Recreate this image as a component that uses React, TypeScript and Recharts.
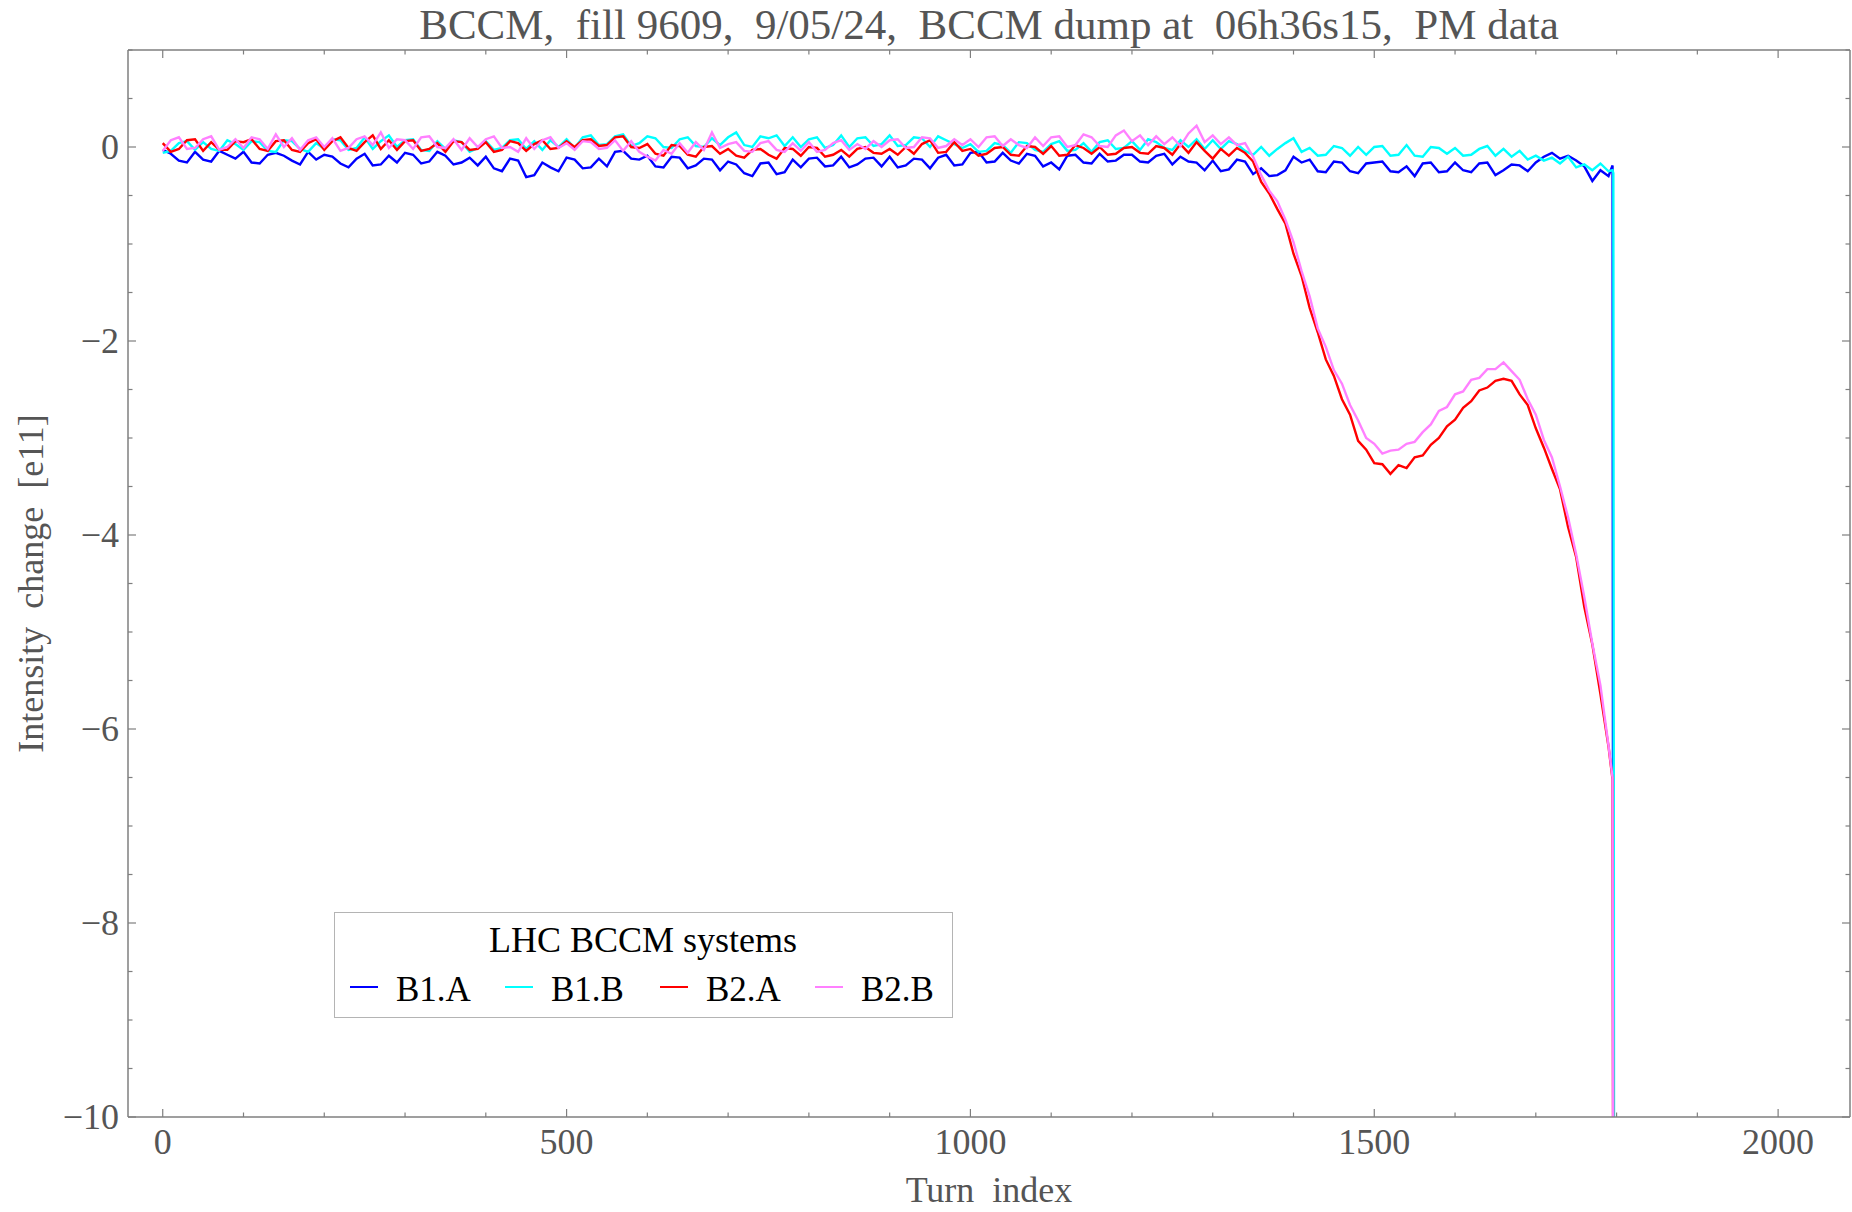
import { Legend, Line, LineChart, XAxis, YAxis } from 'recharts';

const FONT = "'Liberation Serif', 'Times New Roman', serif";
const AXIS = '#7f7f7f';
const TEXT = '#555555';

const TITLE = 'BCCM,\u00a0 fill 9609,\u00a0 9/05/24,\u00a0 BCCM dump at\u00a0 06h36s15,\u00a0 PM data';

// samples every 10 turns, from turn 0 to turn 1790
const TURN_STEP = 10;

const b1a = [
  -0.03, -0.07, -0.14, -0.16, -0.05, -0.13, -0.15, -0.04, -0.08, -0.12,
  -0.05, -0.16, -0.17, -0.08, -0.06, -0.09, -0.14, -0.18, -0.05, -0.13,
  -0.08, -0.1, -0.17, -0.21, -0.12, -0.07, -0.19, -0.18, -0.09, -0.16,
  -0.06, -0.08, -0.17, -0.15, -0.05, -0.09, -0.18, -0.16, -0.11, -0.19,
  -0.1, -0.22, -0.25, -0.12, -0.14, -0.31, -0.29, -0.16, -0.21, -0.25,
  -0.11, -0.13, -0.22, -0.21, -0.12, -0.2, -0.05, -0.04, -0.12, -0.13,
  -0.09, -0.2, -0.21, -0.1, -0.11, -0.22, -0.19, -0.12, -0.13, -0.24,
  -0.15, -0.18, -0.27, -0.3, -0.17, -0.16, -0.28, -0.26, -0.13, -0.21,
  -0.12, -0.11, -0.2, -0.19, -0.1, -0.21, -0.18, -0.12, -0.11, -0.2,
  -0.1, -0.21, -0.19, -0.12, -0.13, -0.22, -0.11, -0.08, -0.19, -0.18,
  -0.06, -0.05, -0.16, -0.15, -0.06, -0.14, -0.17, -0.07, -0.09, -0.2,
  -0.16, -0.23, -0.09, -0.08, -0.16, -0.17, -0.07, -0.15, -0.14, -0.08,
  -0.08, -0.15, -0.16, -0.09, -0.07, -0.18, -0.1, -0.15, -0.16, -0.24,
  -0.14, -0.25, -0.23, -0.13, -0.15, -0.28, -0.22, -0.3, -0.29, -0.24,
  -0.1, -0.16, -0.13, -0.25, -0.26, -0.15, -0.16, -0.25, -0.27, -0.17,
  -0.16, -0.15, -0.25, -0.26, -0.2, -0.3, -0.17, -0.16, -0.26, -0.25,
  -0.16, -0.24, -0.26, -0.17, -0.16, -0.29, -0.24, -0.18, -0.19, -0.25,
  -0.16, -0.1, -0.06, -0.12, -0.09, -0.14, -0.2, -0.35, -0.24, -0.3,
];

const b1b = [
  -0.06, -0.04, 0.04, 0.06, -0.03, 0.05, -0.02, -0.04, 0.07, 0.03,
  -0.03, 0.06, 0.05, -0.04, -0.05, 0.07, 0.06, -0.02, -0.05, 0.04,
  -0.02, 0.08, 0.07, -0.03, -0.01, 0.1, -0.02, 0.06, 0.12, 0.0,
  0.07, 0.08, -0.03, -0.04, 0.06, -0.02, 0.07, 0.05, -0.05, -0.01,
  0.06, -0.03, -0.01, 0.07, 0.08, -0.02, 0.06, -0.03, 0.07, 0.0,
  0.08, -0.01, 0.1, 0.12, 0.02, 0.03, 0.11, 0.13, 0.01, 0.04,
  0.11, 0.09, 0.0, -0.01, 0.08, 0.1, 0.01, 0.0, 0.09, 0.02,
  0.1, 0.15, 0.02, 0.0, 0.11, 0.09, 0.12, 0.01, 0.1, 0.0,
  0.08, 0.1, -0.01, 0.02, 0.12, 0.0, 0.09, 0.1, 0.01, 0.03,
  0.12, 0.01, 0.02, 0.1, 0.09, 0.0, 0.11, 0.07, 0.03, -0.01,
  0.03, -0.05, -0.04, 0.04, 0.02, -0.06, 0.05, 0.04, -0.03, -0.05,
  0.03, 0.06, -0.04, -0.03, 0.04, -0.05, 0.05, 0.07, -0.02, -0.01,
  0.06, -0.03, 0.08, 0.05, -0.01, -0.03, 0.07, 0.0, 0.08, -0.02,
  0.07, -0.02, 0.06, 0.03, -0.04, -0.08, 0.0, -0.09, -0.02, 0.04,
  0.09, -0.05, -0.01, -0.09, -0.08, 0.01, -0.01, -0.09, 0.0, -0.08,
  0.0, 0.01, -0.09, -0.08, 0.02, -0.09, -0.1, 0.0, -0.01, -0.07,
  -0.01, -0.09, -0.08, -0.02, 0.01, -0.09, -0.02, -0.1, -0.04, -0.13,
  -0.09, -0.14, -0.11, -0.17, -0.1, -0.21, -0.18, -0.24, -0.17, -0.25,
];

const b2a = [
  0.04, -0.05, -0.02, 0.07, 0.08, -0.04, 0.05, -0.03, -0.03, 0.06,
  0.05, 0.08, -0.02, -0.04, 0.06, 0.07, -0.03, -0.05, 0.04, 0.08,
  -0.03, 0.06, 0.1, -0.01, -0.04, 0.05, 0.12, -0.02, 0.07, -0.03,
  0.06, 0.07, -0.04, -0.02, 0.04, -0.05, 0.06, 0.05, -0.03, -0.02,
  0.05, -0.05, -0.03, 0.06, 0.04, -0.04, 0.03, 0.07, -0.02, -0.01,
  0.06, 0.0, 0.07, 0.08, 0.01, 0.02, 0.1, 0.11, 0.0, -0.01,
  0.03, -0.07, -0.09, 0.02, 0.01, -0.08, -0.1, 0.0, 0.01, -0.07,
  -0.02, -0.09, -0.11, -0.03, -0.02, -0.08, -0.12, -0.01, -0.02, -0.09,
  0.0, -0.01, -0.1, -0.08, -0.03, -0.1, -0.02, 0.0, -0.06, -0.07,
  -0.02, -0.08, 0.0, -0.07, 0.03, 0.07, -0.06, -0.05, 0.05, -0.04,
  -0.02, -0.09, -0.07, -0.01, 0.0, -0.08, -0.09, 0.01, 0.0, -0.07,
  0.01, -0.09, -0.08, 0.02, -0.01, -0.07, 0.0, -0.08, -0.07, -0.01,
  0.0, -0.06, -0.07, 0.01, -0.01, -0.08, 0.03, -0.06, 0.05, -0.04,
  -0.12, -0.02, -0.09, -0.01, -0.06, -0.15, -0.36, -0.48, -0.64, -0.79,
  -1.1, -1.33, -1.66, -1.91, -2.19, -2.36, -2.6, -2.76, -3.03, -3.12,
  -3.26, -3.27, -3.37, -3.28, -3.31, -3.2, -3.18, -3.07, -3.0, -2.88,
  -2.81, -2.69, -2.62, -2.51, -2.48, -2.41, -2.39, -2.41, -2.55, -2.66,
  -2.9, -3.1, -3.32, -3.53, -3.92, -4.23, -4.74, -5.13, -5.64, -6.18,
];

const b2b = [
  -0.04, 0.07, 0.1, -0.02, -0.01, 0.08, 0.11, -0.03, 0.0, 0.08,
  -0.01, 0.1, 0.08, -0.02, 0.13, 0.0, 0.09, -0.03, 0.07, 0.1,
  0.0, 0.09, -0.04, -0.01, 0.08, 0.11, 0.02, 0.15, -0.01, 0.08,
  0.07, -0.02, 0.1, 0.11, 0.0, -0.01, 0.08, -0.03, 0.09, 0.0,
  0.08, 0.11, -0.01, 0.0, -0.05, 0.09, -0.02, 0.07, 0.1, -0.01,
  0.04, -0.03, 0.06, 0.05, -0.02, -0.01, 0.07, -0.04, 0.06, -0.05,
  -0.1, -0.14, -0.03, -0.07, 0.04, -0.06, 0.05, -0.03, 0.15, -0.01,
  0.03, 0.05, -0.04, -0.05, 0.04, 0.06, -0.03, -0.05, 0.04, -0.04,
  0.05, -0.05, -0.03, 0.04, 0.07, -0.03, 0.03, -0.02, 0.06, 0.0,
  0.07, 0.08, -0.01, 0.0, 0.1, 0.09, -0.01, 0.01, 0.08, 0.02,
  0.08, 0.0, 0.1, 0.11, 0.01, 0.08, 0.02, -0.01, 0.1, 0.01,
  0.1, 0.11, 0.0, 0.02, 0.13, 0.1, 0.01, 0.0, 0.12, 0.17,
  0.06, 0.12, 0.02, 0.11, 0.03, 0.1, 0.01, 0.14, 0.22, 0.05,
  0.12, 0.03, 0.1, 0.02, 0.04, -0.1, -0.29, -0.45, -0.56, -0.75,
  -0.98, -1.28, -1.54, -1.87, -2.06, -2.3, -2.44, -2.66, -2.82, -3.0,
  -3.06, -3.16, -3.13, -3.12, -3.06, -3.04, -2.94, -2.86, -2.72, -2.68,
  -2.55, -2.52, -2.4, -2.38, -2.29, -2.29, -2.22, -2.31, -2.4, -2.6,
  -2.76, -3.02, -3.2, -3.5, -3.82, -4.2, -4.64, -5.12, -5.55, -6.17,
];

// beam dump: every trace falls off the bottom of the frame
const tailTurns = [1795, 1796, 1797];
const b1aTail = [-0.19, -12, null];
const b1bTail = [-0.24, -0.27, -12];
const b2aTail = [-6.52, -12, null];
const b2bTail = [-6.5, -12, null];

const xTicks = [
  0, 100, 200, 300, 400, 500, 600, 700, 800, 900, 1000,
  1100, 1200, 1300, 1400, 1500, 1600, 1700, 1800, 1900, 2000,
];
const yTicks = [
  -10, -9.5, -9, -8.5, -8, -7.5, -7, -6.5, -6, -5.5, -5, -4.5,
  -4, -3.5, -3, -2.5, -2, -1.5, -1, -0.5, 0, 0.5, 1,
];

// both axis pairs share one domain, so each series sits on the same scale
const series = [
  { key: 'b1a', name: 'B1.A', color: '#0000ff', x: 'bottom', y: 'left' },
  { key: 'b1b', name: 'B1.B', color: '#00ffff', x: 'top', y: 'right' },
  { key: 'b2a', name: 'B2.A', color: '#ff0000', x: 'bottom', y: 'left' },
  { key: 'b2b', name: 'B2.B', color: '#ff80ff', x: 'top', y: 'right' },
];

const rows = b1a
  .map((v, i) => ({ t: i * TURN_STEP, b1a: v, b1b: b1b[i], b2a: b2a[i], b2b: b2b[i] }))
  .concat(
    tailTurns.map((t, i) => ({ t, b1a: b1aTail[i], b1b: b1bTail[i], b2a: b2aTail[i], b2b: b2bTail[i] })) as any,
  );

const fmtY = (v: number) => (v < 0 ? '\u2212' + Math.abs(v) : String(v));

function BottomTick({ x, y, payload }: any) {
  const major = payload.value % 500 === 0;
  return (
    <g>
      <line x1={x} x2={x} y1={y} y2={y - (major ? 8 : 4.5)} stroke={AXIS} strokeWidth={1.2} />
      {major && (
        <text x={x} y={y + 37} textAnchor="middle" fill={TEXT} fontSize={36} fontFamily={FONT}>
          {payload.value}
        </text>
      )}
    </g>
  );
}

function TopTick({ x, y, payload }: any) {
  const major = payload.value % 500 === 0;
  return <line x1={x} x2={x} y1={y} y2={y + (major ? 8 : 4.5)} stroke={AXIS} strokeWidth={1.2} />;
}

function LeftTick({ x, y, payload }: any) {
  const major = payload.value % 2 === 0 && payload.value <= 0;
  return (
    <g>
      <line x1={x} x2={x + (major ? 8 : 4.5)} y1={y} y2={y} stroke={AXIS} strokeWidth={1.2} />
      {major && (
        <text x={x - 9} y={y + 12} textAnchor="end" fill={TEXT} fontSize={36} fontFamily={FONT}>
          {fmtY(payload.value)}
        </text>
      )}
    </g>
  );
}

function RightTick({ x, y, payload }: any) {
  const major = payload.value % 2 === 0;
  return <line x1={x} x2={x - (major ? 8 : 4.5)} y1={y} y2={y} stroke={AXIS} strokeWidth={1.2} />;
}

function LegendBox({ payload }: any) {
  return (
    <div
      style={{
        width: 619,
        height: 106,
        boxSizing: 'border-box',
        border: '1px solid #b4b4b4',
        background: '#fff',
      }}
    >
      <svg width={617} height={104} style={{ display: 'block' }}>
        <text x={308} y={39} textAnchor="middle" fontSize={36} fontFamily={FONT} fill="#000">
          LHC BCCM systems
        </text>
        {(payload ?? []).map((p: any, i: number) => (
          <g key={p.value}>
            <line x1={15 + i * 155} x2={43 + i * 155} y1={74} y2={74} stroke={p.color} strokeWidth={2} />
            <text x={61 + i * 155} y={88} fontSize={35} fontFamily={FONT} fill="#000">
              {p.value}
            </text>
          </g>
        ))}
      </svg>
    </div>
  );
}

export default function App() {
  return (
    <div style={{ position: 'absolute', left: 0, top: 0, width: 1852, height: 1212, background: '#fff' }}>
      <LineChart width={1852} height={1212} data={rows} margin={{ top: 49, right: 1, left: 0, bottom: 0 }}>
        <XAxis
          xAxisId="bottom"
          type="number"
          dataKey="t"
          domain={[-43, 2089]}
          allowDataOverflow
          ticks={xTicks}
          interval={0}
          height={95}
          tickSize={0}
          tickMargin={0}
          tick={<BottomTick />}
          axisLine={{ stroke: AXIS, strokeWidth: 1.5 }}
          label={{
            value: 'Turn\u00a0 index',
            position: 'insideBottom',
            offset: 10,
            style: { fill: TEXT, fontSize: 36, fontFamily: FONT },
          }}
        />
        <XAxis
          xAxisId="top"
          orientation="top"
          type="number"
          dataKey="t"
          domain={[-43, 2089]}
          allowDataOverflow
          ticks={xTicks}
          interval={0}
          height={1}
          tickSize={0}
          tickMargin={0}
          tick={<TopTick />}
          axisLine={{ stroke: AXIS, strokeWidth: 1.5 }}
          label={{
            value: TITLE,
            position: 'top',
            offset: 10,
            style: { fill: TEXT, fontSize: 43, fontFamily: FONT },
          }}
        />
        <YAxis
          yAxisId="left"
          type="number"
          domain={[-10, 1]}
          allowDataOverflow
          ticks={yTicks}
          interval={0}
          width={128}
          tickSize={0}
          tickMargin={0}
          tick={<LeftTick />}
          axisLine={{ stroke: AXIS, strokeWidth: 1.5 }}
          label={{
            value: 'Intensity\u00a0 change\u00a0 [e11]',
            angle: -90,
            position: 'insideLeft',
            offset: 30,
            style: { fill: TEXT, fontSize: 36, fontFamily: FONT, textAnchor: 'middle' },
          }}
        />
        <YAxis
          yAxisId="right"
          orientation="right"
          type="number"
          domain={[-10, 1]}
          allowDataOverflow
          ticks={yTicks}
          interval={0}
          width={1}
          tickSize={0}
          tickMargin={0}
          tick={<RightTick />}
          axisLine={{ stroke: AXIS, strokeWidth: 1.5 }}
        />
        <Legend
          layout="vertical"
          align="center"
          verticalAlign="middle"
          wrapperStyle={{ left: 334, top: 912, width: 619, height: 106 }}
          content={<LegendBox />}
        />
        {series.map((s) => (
          <Line
            key={s.key}
            xAxisId={s.x}
            yAxisId={s.y}
            type="linear"
            dataKey={s.key}
            name={s.name}
            stroke={s.color}
            strokeWidth={2.4}
            dot={false}
            activeDot={false}
            isAnimationActive={false}
          />
        ))}
      </LineChart>
    </div>
  );
}
